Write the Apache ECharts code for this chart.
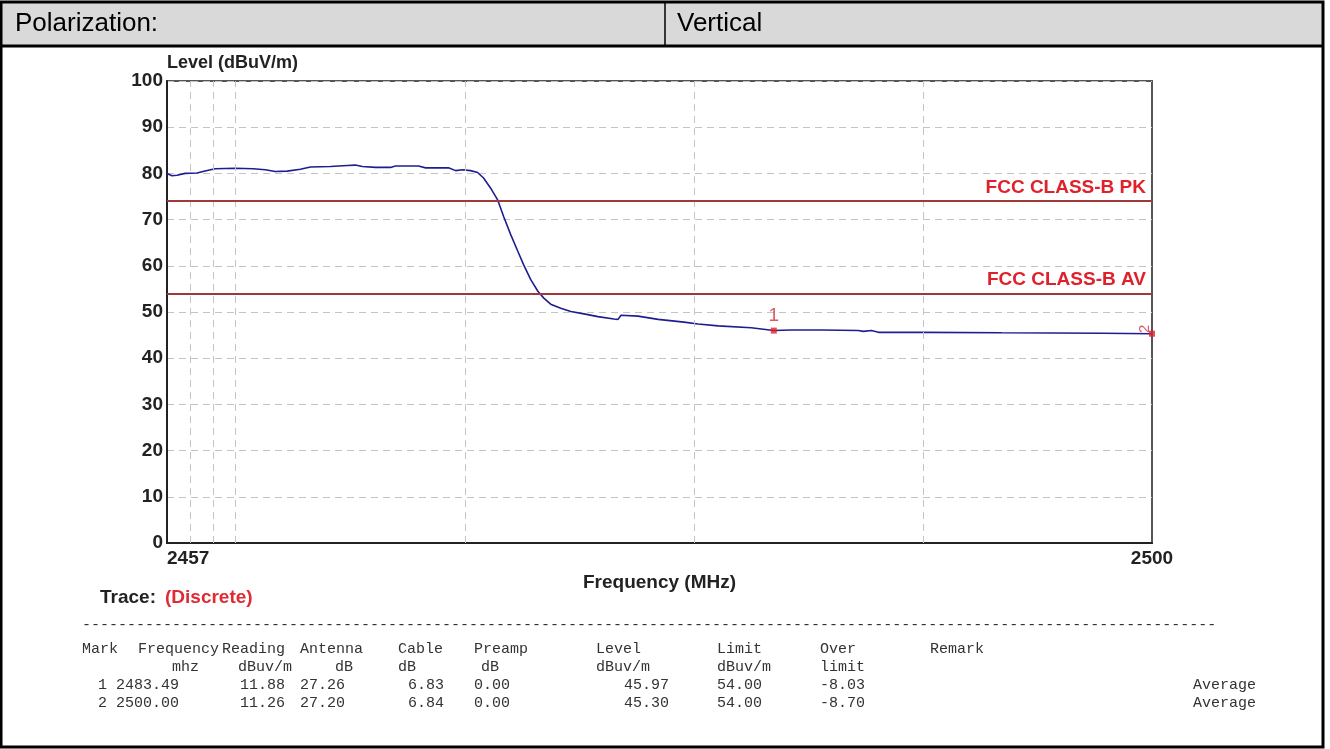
<!DOCTYPE html>
<html>
<head>
<meta charset="utf-8">
<script src="https://cdn.jsdelivr.net/npm/echarts@6/dist/echarts.min.js"></script>
<style>
  html, body { margin: 0; padding: 0; background: #fff; }
  #main { width: 1330px; height: 749px; }
</style>
</head>
<body>
<div id="main"></div>
<script>
// trace
const freqs = [2457.0, 2457.22, 2457.44, 2457.79, 2458.31, 2458.66, 2459.10, 2459.97, 2460.76, 2461.29,
  2461.72, 2462.25, 2462.82, 2463.26, 2464.13, 2464.87, 2465.22, 2465.53, 2466.10, 2466.76,
  2466.97, 2467.98, 2468.29, 2469.29, 2469.60, 2469.90, 2470.25, 2470.56, 2470.82, 2471.13,
  2471.44, 2471.70, 2472.00, 2472.31, 2472.57, 2472.88, 2473.19, 2473.45, 2473.75, 2474.19,
  2474.63, 2475.20, 2475.81, 2476.51, 2476.69, 2476.82, 2477.56, 2478.44, 2479.57, 2480.18,
  2481.06, 2482.50, 2483.49, 2484.25, 2485.57, 2487.18, 2487.40, 2487.75, 2488.06, 2489.94,
  2493.44, 2497.81, 2500.0];
const levels = [80.0, 79.5, 79.6, 80.0, 80.1, 80.5, 81.0, 81.1, 81.0, 80.8,
  80.4, 80.5, 80.9, 81.4, 81.5, 81.7, 81.8, 81.5, 81.3, 81.3,
  81.6, 81.6, 81.2, 81.2, 80.6, 80.8, 80.6, 80.2, 79.0, 76.8,
  74.2, 70.6, 66.8, 63.2, 60.2, 57.0, 54.5, 53.0, 51.7, 50.8,
  50.1, 49.6, 49.0, 48.5, 48.4, 49.3, 49.1, 48.4, 47.8, 47.4,
  47.0, 46.6, 46.0, 46.1, 46.1, 46.0, 45.8, 46.0, 45.6, 45.6,
  45.5, 45.4, 45.3];

const limitNames = ['FCC CLASS-B PK', 'FCC CLASS-B AV'];
const limitValues = [74, 54];
const xGridLines = [2458, 2459, 2460, 2470, 2480, 2490];
const xTickLabels = [2457, 2500];

// marker table
const headRow1 = ['Mark', 'Frequency', 'Reading', 'Antenna', 'Cable', 'Preamp', 'Level', 'Limit', 'Over', 'Remark'];
const headRow2 = ['', 'mhz', 'dBuv/m', 'dB', 'dB', 'dB', 'dBuv/m', 'dBuv/m', 'limit', ''];
const markNo = ['1', '2'];
const markFreq = ['2483.49', '2500.00'];
const reading = ['11.88', '11.26'];
const antenna = ['27.26', '27.20'];
const cable = ['6.83', '6.84'];
const preamp = ['0.00', '0.00'];
const markLevel = ['45.97', '45.30'];
const markLimit = ['54.00', '54.00'];
const overLimit = ['-8.03', '-8.70'];
const remark = ['Average', 'Average'];

const chart = echarts.init(document.getElementById('main'));

const mono = '"Liberation Mono", "Courier New", monospace';
const sans = '"Liberation Sans", Arial, sans-serif';

let graphics = [
  { type: 'rect', shape: { x: 1, y: 2, width: 1322, height: 44 }, style: { fill: '#d9d9d9', stroke: null }, z: -10 },
  { type: 'rect', shape: { x: 1, y: 2, width: 1322, height: 745 }, style: { fill: null, stroke: '#000', lineWidth: 3 }, z: 100 },
  { type: 'line', shape: { x1: 1, y1: 46, x2: 1323, y2: 46 }, style: { stroke: '#000', lineWidth: 3 }, z: 100 },
  { type: 'line', shape: { x1: 665, y1: 2, x2: 665, y2: 46 }, style: { stroke: '#000', lineWidth: 1.5 }, z: 100 },
  { type: 'text', x: 15, y: 24, style: { text: 'Polarization:', font: '26px ' + sans, fill: '#000', verticalAlign: 'middle' } },
  { type: 'text', x: 677, y: 24, style: { text: 'Vertical', font: '26px ' + sans, fill: '#000', verticalAlign: 'middle' } },
  { type: 'text', x: 100, y: 598, style: { text: 'Trace:', font: 'bold 19px ' + sans, fill: '#222', verticalAlign: 'middle' } },
  { type: 'text', x: 165, y: 598, style: { text: '(Discrete)', font: 'bold 19px ' + sans, fill: '#e02b35', verticalAlign: 'middle' } },
  { type: 'text', x: 82, y: 625, style: { text: '-'.repeat(126), font: '15px ' + mono, fill: '#333', verticalAlign: 'middle' } }
];

const head1X = [82, 138, 222, 300, 398, 474, 596, 717, 820, 930];
const head2X = [82, 172, 238, 335, 398, 481, 596, 717, 820, 930];
headRow1.forEach((t, i) => graphics.push({ type: 'text', x: head1X[i], y: 649,
  style: { text: t, font: '15px ' + mono, fill: '#333', verticalAlign: 'middle' } }));
headRow2.forEach((t, i) => graphics.push({ type: 'text', x: head2X[i], y: 667,
  style: { text: t, font: '15px ' + mono, fill: '#333', verticalAlign: 'middle' } }));
const cols = [markNo, markFreq, reading, antenna, cable, preamp, markLevel, markLimit, overLimit, remark];
const colX = [98, 116, 240, 300, 408, 474, 624, 717, 820, 1193];
markNo.forEach((_, r) => {
  cols.forEach((col, c) => graphics.push({ type: 'text', x: colX[c], y: 685 + r * 18,
    style: { text: col[r], font: '15px ' + mono, fill: '#333', verticalAlign: 'middle' } }));
});

chart.setOption({
  animation: false,
  backgroundColor: '#fff',
  grid: { left: 167, top: 81, width: 985, height: 462, show: true, borderColor: '#555', borderWidth: 2 },
  xAxis: {
    type: 'value', min: 2457, max: 2500,
    name: 'Frequency (MHz)', nameLocation: 'middle', nameGap: 30,
    nameTextStyle: { fontFamily: sans, fontWeight: 'bold', fontSize: 19, color: '#222' },
    axisLine: { show: true, lineStyle: { color: '#222', width: 2 } },
    axisTick: { show: false },
    splitLine: { show: false },
    axisLabel: { customValues: xTickLabels, formatter: v => String(v), alignMinLabel: 'left',
      fontFamily: sans, fontWeight: 'bold', fontSize: 19, color: '#222', margin: 6 }
  },
  yAxis: {
    type: 'value', min: 0, max: 100, interval: 10,
    name: 'Level (dBuV/m)', nameLocation: 'end', nameGap: 5,
    nameTextStyle: { fontFamily: sans, fontWeight: 'bold', fontSize: 18, color: '#222', align: 'left', verticalAlign: 'bottom' },
    axisLine: { show: true, lineStyle: { color: '#222', width: 2 } },
    axisTick: { show: false },
    axisLabel: { fontFamily: sans, fontWeight: 'bold', fontSize: 19, color: '#222', margin: 4 },
    splitLine: { show: true, lineStyle: { color: '#c4c4c4', type: [7, 5], width: 1 } }
  },
  graphic: graphics,
  series: [
    {
      type: 'line', name: 'Level',
      data: freqs.map((f, i) => [f, levels[i]]),
      showSymbol: false,
      lineStyle: { color: '#1e1e90', width: 1.6 },
      markLine: {
        silent: true, symbol: 'none', animation: false,
        data: xGridLines.map(v => ({ xAxis: v, lineStyle: { color: '#c4c4c4', type: [7, 5], width: 1 }, label: { show: false } }))
          .concat(limitValues.map((v, i) => ({
            yAxis: v, name: limitNames[i],
            lineStyle: { color: '#a03a3a', type: 'solid', width: 2 },
            label: { show: true, position: 'insideEndTop', formatter: '{b}', distance: [6, 4],
              fontFamily: '"Liberation Sans Narrow", "Liberation Sans", sans-serif', fontWeight: 'bold', fontSize: 19, color: '#e0202a' }
          })))
      }
    },
    {
      type: 'scatter', name: 'Marks',
      data: markNo.map((n, i) => ({ name: n, value: [parseFloat(markFreq[i]), parseFloat(markLevel[i])],
        label: i === 1 ? { rotate: 90, position: 'top', distance: 2, fontSize: 15 } : {} })),
      symbol: 'rect', symbolSize: 6,
      itemStyle: { color: '#e0202a' },
      label: { show: true, formatter: '{b}', position: 'top', distance: 2, color: '#d03040', fontFamily: sans, fontSize: 19 },
      z: 5
    }
  ]
});
</script>
</body>
</html>
